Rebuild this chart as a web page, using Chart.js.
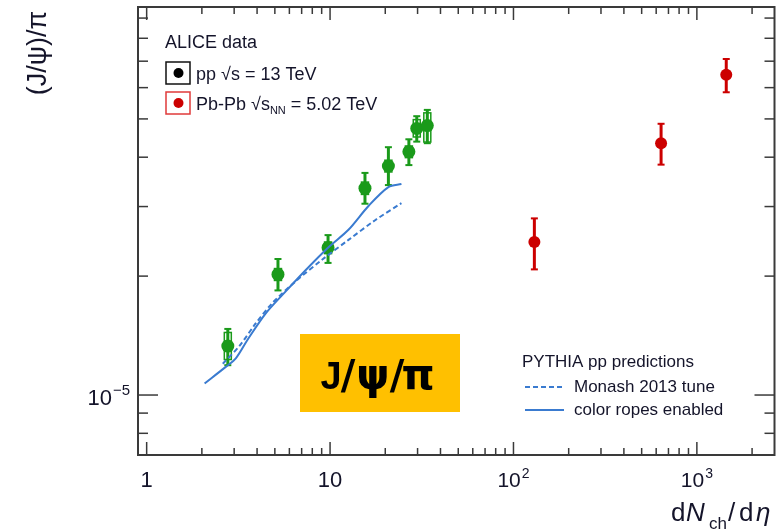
<!DOCTYPE html>
<html><head><meta charset="utf-8">
<script src="https://cdn.jsdelivr.net/npm/chart.js@4.4.0/dist/chart.umd.min.js"></script>
<style>html,body{margin:0;padding:0;background:#fff;overflow:hidden}canvas{display:block}</style>
</head><body>
<canvas id="c" width="781" height="531"></canvas>
<script>
// ---- data ----
const ppX      = [2.77, 5.2, 9.75, 15.5, 20.8, 26.9, 29.7, 33.9];
const ppY      = [1.33e-5, 2.02e-5, 2.36e-5, 3.34e-5, 3.80e-5, 4.13e-5, 4.73e-5, 4.81e-5];
const ppStatLo = [1.19e-5, 1.84e-5, 2.16e-5, 3.05e-5, 3.40e-5, 3.82e-5, 4.38e-5, 4.34e-5];
const ppStatHi = [1.47e-5, 2.21e-5, 2.54e-5, 3.65e-5, 4.24e-5, 4.44e-5, 5.08e-5, 5.27e-5];
const ppSysLo  = [1.23e-5, 1.95e-5, 2.28e-5, 3.22e-5, 3.67e-5, 3.99e-5, 4.50e-5, 4.37e-5];
const ppSysHi  = [1.44e-5, 2.09e-5, 2.44e-5, 3.46e-5, 3.93e-5, 4.27e-5, 4.98e-5, 5.18e-5];

const pbX      = [130, 638, 1446];
const pbY      = [2.44e-5, 4.34e-5, 6.47e-5];
const pbStatLo = [2.08e-5, 3.83e-5, 5.84e-5];
const pbStatHi = [2.80e-5, 4.86e-5, 7.09e-5];

const ropesX  = [2.07, 2.71, 3.07, 3.55, 4.46, 5.73, 7.35, 9.84, 12.6, 16.2, 20.8, 24.5];
const ropesY  = [1.07e-5, 1.18e-5, 1.24e-5, 1.38e-5, 1.61e-5, 1.83e-5, 2.07e-5, 2.37e-5, 2.62e-5, 3.01e-5, 3.36e-5, 3.42e-5];
const monashX = [2.60, 3.20, 3.94, 4.85, 6.49, 9.04, 12.6, 17.6, 24.5];
const monashY = [1.20e-5, 1.33e-5, 1.52e-5, 1.71e-5, 1.94e-5, 2.20e-5, 2.47e-5, 2.77e-5, 3.06e-5];

const xTickVals  = [1, 10, 100, 1000];
const xTickBase  = ['1', '10', '10', '10'];
const xTickExp   = ['', '', '2', '3'];
const yTickVals  = [1e-5];
const yTickBase  = ['10'];
const yTickExp   = ['\u22125'];

const xMin = 0.897, xMax = 2650;
const yMin = 7.05e-6, yMax = 9.6e-5;

// ---- styling ----
const GREEN = '#1a9a1a', RED = '#cc0000', BLUE = '#3a7bd0', TXT = '#14142a', FRAME = '#3a3a3a';
const SANS = '"Liberation Sans", Arial, sans-serif';
const DJ = '"DejaVu Sans", sans-serif';

const pts = (xs, ys) => xs.map((x, i) => ({x: x, y: ys[i]}));

function line(ctx, x1, y1, x2, y2) { ctx.beginPath(); ctx.moveTo(x1, y1); ctx.lineTo(x2, y2); ctx.stroke(); }

const errPlugin = {
  id: 'errbars',
  beforeDatasetsDraw(chart) {
    const ctx = chart.ctx, xs = chart.scales.x, ys = chart.scales.y;
    ctx.save();
    ctx.strokeStyle = GREEN; ctx.lineWidth = 1.5;
    ppX.forEach((x, i) => {
      const px = xs.getPixelForValue(x);
      const y1 = ys.getPixelForValue(ppSysHi[i]), y2 = ys.getPixelForValue(ppSysLo[i]);
      ctx.strokeRect(px - 3.5, y1, 7, y2 - y1);
    });
    const bars = (X, LO, HI, col) => {
      ctx.strokeStyle = col;
      X.forEach((x, i) => {
        const px = xs.getPixelForValue(x);
        const y1 = ys.getPixelForValue(HI[i]), y2 = ys.getPixelForValue(LO[i]);
        ctx.lineWidth = 3;
        line(ctx, px, y1, px, y2);
        ctx.lineWidth = 2;
        line(ctx, px - 3.5, y1, px + 3.5, y1);
        line(ctx, px - 3.5, y2, px + 3.5, y2);
      });
    };
    bars(ppX, ppStatLo, ppStatHi, GREEN);
    bars(pbX, pbStatLo, pbStatHi, RED);
    ctx.restore();
  }
};

function drawPow(ctx, base, exp, x, y, align, bSize, eSize, eRise) {
  ctx.font = bSize + 'px ' + SANS;
  const wb = ctx.measureText(base).width;
  ctx.font = eSize + 'px ' + SANS;
  const we = exp ? ctx.measureText(exp).width + 1 : 0;
  const tot = wb + we;
  let x0 = align === 'center' ? x - tot / 2 : (align === 'right' ? x - tot : x);
  ctx.textAlign = 'left'; ctx.textBaseline = 'alphabetic';
  ctx.font = bSize + 'px ' + SANS;
  ctx.fillText(base, x0, y);
  if (exp) { ctx.font = eSize + 'px ' + SANS; ctx.fillText(exp, x0 + wb + 1, y - eRise); }
}

const framePlugin = {
  id: 'frame',
  afterDraw(chart) {
    const ctx = chart.ctx, a = chart.chartArea, xs = chart.scales.x, ys = chart.scales.y;
    ctx.save();
    ctx.strokeStyle = FRAME; ctx.lineWidth = 2;
    ctx.strokeRect(a.left, a.top, a.right - a.left, a.bottom - a.top);
    ctx.lineWidth = 1.5;
    for (let d = -1; d <= 4; d++) for (let m = 1; m <= 9; m++) {
      const v = m * Math.pow(10, d);
      if (v < xs.min || v > xs.max) continue;
      const px = xs.getPixelForValue(v), L = m === 1 ? 13 : 7;
      line(ctx, px, a.bottom, px, a.bottom - L);
      line(ctx, px, a.top, px, a.top + L);
    }
    for (let d = -6; d <= -4; d++) for (let m = 1; m <= 9; m++) {
      const v = m * Math.pow(10, d);
      if (v < ys.min || v > ys.max) continue;
      const py = ys.getPixelForValue(v), L = m === 1 ? 20 : 10;
      line(ctx, a.left, py, a.left + L, py);
      line(ctx, a.right, py, a.right - L, py);
    }
    ctx.fillStyle = TXT;
    xTickVals.forEach((v, i) => {
      const px = xs.getPixelForValue(v);
      if (xTickExp[i]) drawPow(ctx, xTickBase[i], xTickExp[i], px, 487, 'center', 21, 14, 9);
      else drawPow(ctx, xTickBase[i], '', px, 487, 'center', 22, 14, 9);
    });
    yTickVals.forEach((v, i) => {
      const py = ys.getPixelForValue(v);
      drawPow(ctx, yTickBase[i], yTickExp[i], 130, py + 10, 'right', 22, 15, 10);
    });
    // y title
    ctx.save();
    ctx.translate(46, 53); ctx.rotate(-Math.PI / 2);
    ctx.font = '27px ' + SANS; ctx.textAlign = 'center'; ctx.textBaseline = 'alphabetic';
    ctx.fillText('(J/\u03c8)/\u03c0', 0, 0);
    ctx.restore();
    // x title
    ctx.textAlign = 'left'; ctx.textBaseline = 'alphabetic';
    const xt = [['d', '26px ' + SANS, 671, 521], ['N', 'italic 26px ' + SANS, 686, 521], ['ch', '17px ' + SANS, 709, 529],
                ['/', '26px ' + SANS, 728, 521], ['d', '26px ' + SANS, 739, 521], ['\u03b7', 'italic 26px ' + SANS, 756, 521]];
    xt.forEach(t => { ctx.font = t[1]; ctx.fillText(t[0], t[2], t[3]); });

    // top-left legend
    ctx.fillStyle = TXT; ctx.font = '18px ' + SANS;
    ctx.fillText('ALICE data', 165, 48);
    ctx.lineWidth = 1.5;
    ctx.strokeStyle = '#111'; ctx.strokeRect(166, 62, 24, 22);
    ctx.fillStyle = '#000'; ctx.beginPath(); ctx.arc(178.5, 73, 5, 0, 2 * Math.PI); ctx.fill();
    ctx.strokeStyle = '#e03a3a'; ctx.strokeRect(166, 92, 24, 22);
    ctx.fillStyle = RED; ctx.beginPath(); ctx.arc(178.5, 103, 5, 0, 2 * Math.PI); ctx.fill();
    ctx.fillStyle = TXT;
    let xx = 196;
    const put2 = (t, f, y) => { ctx.font = f; ctx.fillText(t, xx, y); xx += ctx.measureText(t).width; };
    put2('pp \u221as = 13 TeV', '18px ' + SANS, 80);
    xx = 196;
    put2('Pb-Pb \u221as', '18px ' + SANS, 110);
    put2('NN', '11px ' + SANS, 114);
    put2(' = 5.02 TeV', '18px ' + SANS, 110);

    // bottom-right legend
    ctx.font = '17px ' + SANS; ctx.fillStyle = TXT;
    ctx.fillText('PYTHIA pp predictions', 522, 367);
    ctx.fillText('Monash 2013 tune', 574, 392);
    ctx.fillText('color ropes enabled', 574, 415);
    ctx.strokeStyle = BLUE; ctx.lineWidth = 2;
    ctx.setLineDash([5, 3]); line(ctx, 525, 387, 564, 387);
    ctx.setLineDash([]); line(ctx, 525, 410, 564, 410);

    // badge
    ctx.fillStyle = '#ffc000'; ctx.fillRect(300, 334, 160, 78);
    ctx.fillStyle = '#000'; ctx.textAlign = 'center';
    const glyphs = [['J', 'bold 38px ' + SANS, 331], ['/', 'bold 40px ' + DJ, 348], ['\u03c8', 'bold 42px ' + DJ, 373],
                    ['/', 'bold 40px ' + DJ, 397], ['\u03c0', 'bold 42px ' + DJ, 418]];
    glyphs.forEach(g => { ctx.font = g[1]; ctx.fillText(g[0], g[2], 389); });
    ctx.restore();
  }
};

new Chart(document.getElementById('c'), {
  type: 'scatter',
  data: {
    datasets: [
      { label: 'Monash 2013 tune', data: pts(monashX, monashY), showLine: true, borderColor: BLUE, borderWidth: 2,
        borderDash: [5, 3], pointRadius: 0, tension: 0.3, fill: false },
      { label: 'color ropes enabled', data: pts(ropesX, ropesY), showLine: true, borderColor: BLUE, borderWidth: 2,
        pointRadius: 0, tension: 0.3, fill: false },
      { label: 'pp 13 TeV', data: pts(ppX, ppY), pointRadius: 6.5, pointBackgroundColor: GREEN, pointBorderWidth: 0, borderColor: GREEN },
      { label: 'Pb-Pb 5.02 TeV', data: pts(pbX, pbY), pointRadius: 6, pointBackgroundColor: RED, pointBorderWidth: 0, borderColor: RED }
    ]
  },
  options: {
    responsive: false, animation: false, devicePixelRatio: 1,
    layout: { padding: { left: 138, right: 2, top: 7, bottom: 76 } },
    plugins: { legend: { display: false }, tooltip: { enabled: false } },
    scales: {
      x: { type: 'logarithmic', min: xMin, max: xMax, display: false },
      y: { type: 'logarithmic', min: yMin, max: yMax, display: false }
    }
  },
  plugins: [errPlugin, framePlugin]
});
</script>
</body></html>
